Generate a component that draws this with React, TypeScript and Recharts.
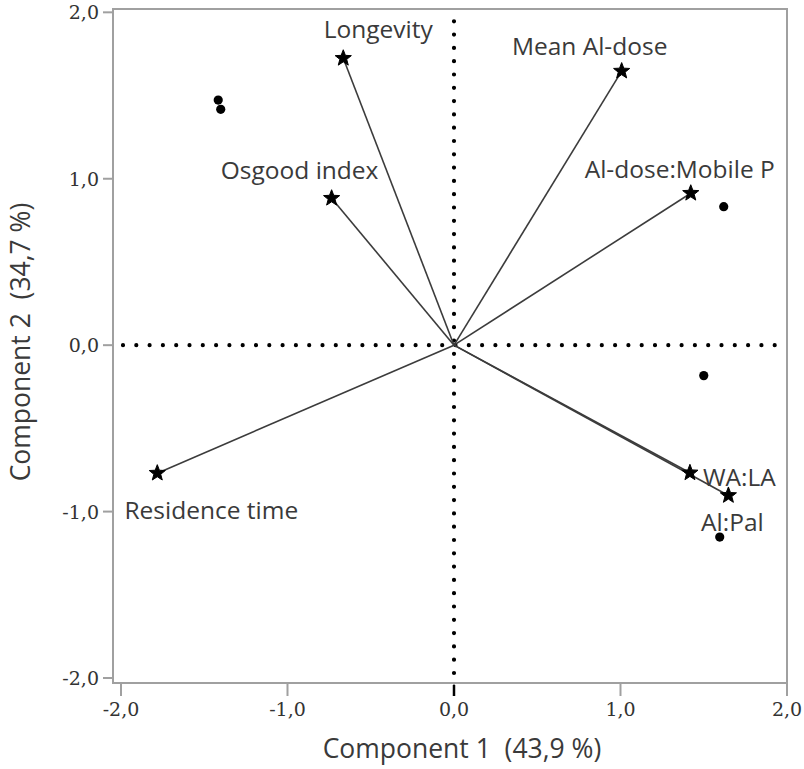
import React from 'react';
import {
  ScatterChart, Scatter, XAxis, YAxis, ReferenceLine, ReferenceArea, LabelList,
} from 'recharts';

// Tick labels
const xTicks = [-2, -1, 0, 1, 2];
const yTicks = [-2, -1, 0, 1, 2];

// Variable loadings (stars + arrows)
const loadingNames = ['Longevity', 'Mean Al-dose', 'Al-dose:Mobile P', 'Osgood index', 'Residence time', 'WA:LA', 'Al:Pal'];
const loadingX = [-0.665, 1.007, 1.422, -0.735, -1.782, 1.417, 1.648];
const loadingY = [1.724, 1.647, 0.913, 0.883, -0.769, -0.767, -0.903];

// Object scores (dots)
const scoreX = [-1.416, -1.401, 1.620, 1.500, 1.596];
const scoreY = [1.473, 1.417, 0.832, -0.183, -1.153];

const xTitle = 'Component 1  (43,9 %)';
const yTitle = 'Component 2  (34,7 %)';

// styling: label offsets relative to star (px)
const labelOffsets: Record<string, [number, number, string]> = {
  'Longevity': [35, -30, 'middle'],
  'Mean Al-dose': [-32, -26, 'middle'],
  'Al-dose:Mobile P': [-11, -25, 'middle'],
  'Osgood index': [-32, -29, 'middle'],
  'Residence time': [54, 36, 'middle'],
  'WA:LA': [13, 4, 'start'],
  'Al:Pal': [4, 26, 'middle'],
};

const loadings = loadingNames.map((name, i) => ({ name, x: loadingX[i], y: loadingY[i] }));
const scores = scoreX.map((x, i) => ({ x, y: scoreY[i] }));

const X_DOMAIN: [number, number] = [-2.048, 2];
const Y_DOMAIN: [number, number] = [-2.03, 2.02];

const FONT = "'Open Sans', 'Noto Sans', sans-serif";
const SERIF = "'DejaVu Serif', serif";

const fmt = (v: number) => v.toFixed(1).replace('.', ',');

const Star = (props: any) => {
  const { cx, cy } = props;
  if (cx == null || cy == null) return null;
  const R = 8.5, r = 3.6;
  const pts: string[] = [];
  for (let k = 0; k < 10; k++) {
    const ang = -Math.PI / 2 + (k * Math.PI) / 5;
    const rad = k % 2 === 0 ? R : r;
    pts.push(`${cx + rad * Math.cos(ang)},${cy + rad * Math.sin(ang)}`);
  }
  return <polygon points={pts.join(' ')} fill="#000" stroke="#000" strokeWidth={1} />;
};

const Dot = (props: any) => {
  const { cx, cy } = props;
  if (cx == null || cy == null) return null;
  return <circle cx={cx} cy={cy} r={4.6} fill="#000" />;
};

const StarLabel = (props: any) => {
  const { x, y, width, height, value } = props;
  const cx = x + (width || 0) / 2;
  const cy = y + (height || 0) / 2;
  const off = labelOffsets[value] || [0, -20, 'middle'];
  return (
    <text x={cx + off[0]} y={cy + off[1]} textAnchor={off[2] as any} dominantBaseline="central"
      fontFamily={FONT} fontSize={24.5} fill="#3a3a3a">
      {value}
    </text>
  );
};

const XTick = (props: any) => {
  const { x, y, payload } = props;
  return (
    <g>
      {payload.value === 0 && <line x1={x} x2={x} y1={y - 13} y2={y - 2} stroke="#000" strokeWidth={2.5} />}
      <text x={x} y={y + 4} textAnchor="middle" dominantBaseline="hanging" fontFamily={SERIF} fontSize={19} fill="#333">
        {fmt(payload.value)}
      </text>
    </g>
  );
};

const YTick = (props: any) => {
  const { x, y, payload } = props;
  return (
    <text x={x} y={y} textAnchor="end" dominantBaseline="central" fontFamily={SERIF} fontSize={19} fill="#333">
      {fmt(payload.value)}
    </text>
  );
};

export default function App() {
  return (
    <div style={{ position: 'absolute', left: 0, top: 0, width: 804, height: 769, background: '#fff' }}>
      <ScatterChart width={804} height={769} margin={{ top: 9, right: 17, bottom: 0, left: 0 }}>
        <XAxis
          type="number" dataKey="x" domain={X_DOMAIN} ticks={xTicks} allowDataOverflow
          height={86} tickSize={13} tickLine={{ stroke: '#a0a0a0', strokeWidth: 2 }}
          axisLine={{ stroke: '#a0a0a0', strokeWidth: 2 }} tick={<XTick />}
          label={{
            content: () => (
              <text x={462} y={748} textAnchor="middle" dominantBaseline="central" fontFamily={FONT} fontSize={26.5} fill="#3a3a3a" style={{ whiteSpace: 'pre' }}>
                {xTitle}
              </text>
            ),
          }}
        />
        <YAxis
          type="number" dataKey="y" domain={Y_DOMAIN} ticks={yTicks} allowDataOverflow
          width={113} tickSize={10} tickMargin={4} tickLine={{ stroke: '#a0a0a0', strokeWidth: 2 }}
          axisLine={{ stroke: '#a0a0a0', strokeWidth: 2 }} tick={<YTick />}
          label={{
            content: () => (
              <text x={20} y={342} transform="rotate(-90 20 342)" textAnchor="middle" dominantBaseline="central" fontFamily={FONT} fontSize={26.5} fill="#3a3a3a" style={{ whiteSpace: 'pre' }}>
                {yTitle}
              </text>
            ),
          }}
        />
        <ReferenceArea x1={X_DOMAIN[0]} x2={X_DOMAIN[1]} y1={Y_DOMAIN[0]} y2={Y_DOMAIN[1]}
          fill="none" stroke="#a0a0a0" strokeWidth={2} fillOpacity={0} />
        <ReferenceLine x={0} stroke="#000" strokeWidth={4.2} strokeDasharray="0 13.3" strokeLinecap="round" strokeDashoffset={-10} />
        <ReferenceLine y={0} stroke="#000" strokeWidth={4.2} strokeDasharray="0 13.3" strokeLinecap="round" strokeDashoffset={-10} />
        {loadings.map((d) => (
          <ReferenceLine key={d.name} segment={[{ x: 0, y: 0 }, { x: d.x, y: d.y }]} stroke="#3c3c3c" strokeWidth={1.6} />
        ))}
        <Scatter data={scores} shape={<Dot />} isAnimationActive={false} />
        <Scatter data={loadings} shape={<Star />} isAnimationActive={false}>
          <LabelList dataKey="name" content={<StarLabel />} />
        </Scatter>
      </ScatterChart>
    </div>
  );
}
